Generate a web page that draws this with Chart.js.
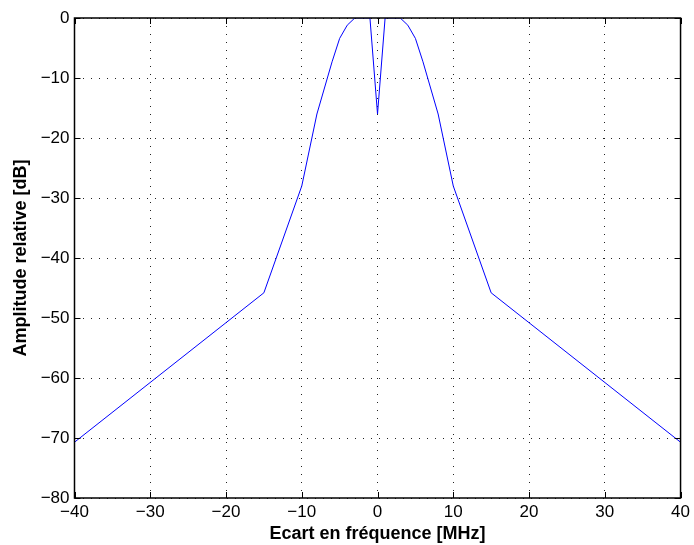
<!DOCTYPE html>
<html>
<head>
<meta charset="utf-8">
<script src="https://cdn.jsdelivr.net/npm/chart.js@4/dist/chart.umd.min.js"></script>
<style>
  html, body { margin: 0; padding: 0; background: #fff; }
  #wrap { width: 694px; height: 545px; }
</style>
</head>
<body>
<div id="wrap"><canvas id="spectre"></canvas></div>
<script>
// frequency offset (MHz) and relative amplitude (dB)
const freqOffset = [-40, -15, -10, -8, -6, -5, -4, -3, -2, -1, 0, 1, 2, 3, 4, 5, 6, 8, 10, 15, 40];
const amplitude = [-70.7, -45.8, -28, -16, -7.3, -3.4, -1.2, 0, 0, 0, -16, 0, 0, 0, -1.2, -3.4, -7.3, -16, -28, -45.8, -70.7];
const xTicks = [-40, -30, -20, -10, 0, 10, 20, 30, 40];
const yTicks = [0, -10, -20, -30, -40, -50, -60, -70, -80];

const points = freqOffset.map((f, i) => ({ x: f, y: amplitude[i] }));
const minus = (v) => String(v).replace("-", "\u2212");

// matlab-like box with inward ticks on all four sides
const boxPlugin = {
  id: "box",
  afterDatasetsDraw(chart) {
    const { ctx, chartArea: a, scales } = chart;
    ctx.save();
    ctx.strokeStyle = "#000";
    ctx.lineWidth = 1;
    ctx.beginPath();
    xTicks.forEach((t) => {
      const px = Math.round(scales.x.getPixelForValue(t)) + 0.5;
      ctx.moveTo(px, a.bottom); ctx.lineTo(px, a.bottom - 6);
      ctx.moveTo(px, a.top); ctx.lineTo(px, a.top + 6);
    });
    yTicks.forEach((t) => {
      const py = Math.round(scales.y.getPixelForValue(t)) + 0.5;
      ctx.moveTo(a.left, py); ctx.lineTo(a.left + 6, py);
      ctx.moveTo(a.right, py); ctx.lineTo(a.right - 6, py);
    });
    ctx.stroke();
    ctx.lineWidth = 1.5;
    ctx.strokeRect(a.left, a.top, a.right - a.left, a.bottom - a.top);
    ctx.restore();
  },
};

new Chart(document.getElementById("spectre"), {
  type: "scatter",
  data: {
    datasets: [
      {
        data: points,
        showLine: true,
        borderColor: "#0000ff",
        borderWidth: 1,
        pointRadius: 0,
        tension: 0,
      },
    ],
  },
  options: {
    responsive: true,
    maintainAspectRatio: false,
    animation: false,
    events: [],
    layout: { padding: { top: 18, right: 11.5, left: 10, bottom: 0 } },
    plugins: { legend: { display: false }, tooltip: { enabled: false } },
    scales: {
      x: {
        type: "linear",
        min: -40,
        max: 40,
        afterBuildTicks: (s) => { s.ticks = xTicks.map((v) => ({ value: v })); },
        afterFit: (s) => { s.height = 47; },
        ticks: {
          color: "#000",
          padding: 4,
          font: { family: "Liberation Sans", size: 17 },
          callback: (v) => minus(v),
        },
        grid: { color: "#222", drawTicks: false, lineWidth: 1 },
        border: { display: false, dash: [1, 7] },
        title: {
          display: true,
          text: "Ecart en fréquence [MHz]",
          color: "#000",
          font: { family: "Liberation Sans", size: 18, weight: "bold" },
          padding: { top: 1, bottom: 0 },
        },
      },
      y: {
        type: "linear",
        min: -80,
        max: 0,
        afterBuildTicks: (s) => { s.ticks = yTicks.map((v) => ({ value: v })); },
        afterFit: (s) => { s.width = 64.5; },
        ticks: {
          color: "#000",
          padding: 5,
          font: { family: "Liberation Sans", size: 17 },
          callback: (v) => minus(v),
        },
        grid: { color: "#222", drawTicks: false, lineWidth: 1 },
        border: { display: false, dash: [1, 7] },
        title: {
          display: true,
          text: "Amplitude relative [dB]",
          color: "#000",
          font: { family: "Liberation Sans", size: 18, weight: "bold" },
          padding: { top: 0, bottom: 0 },
        },
      },
    },
  },
  plugins: [boxPlugin],
});
</script>
</body>
</html>
